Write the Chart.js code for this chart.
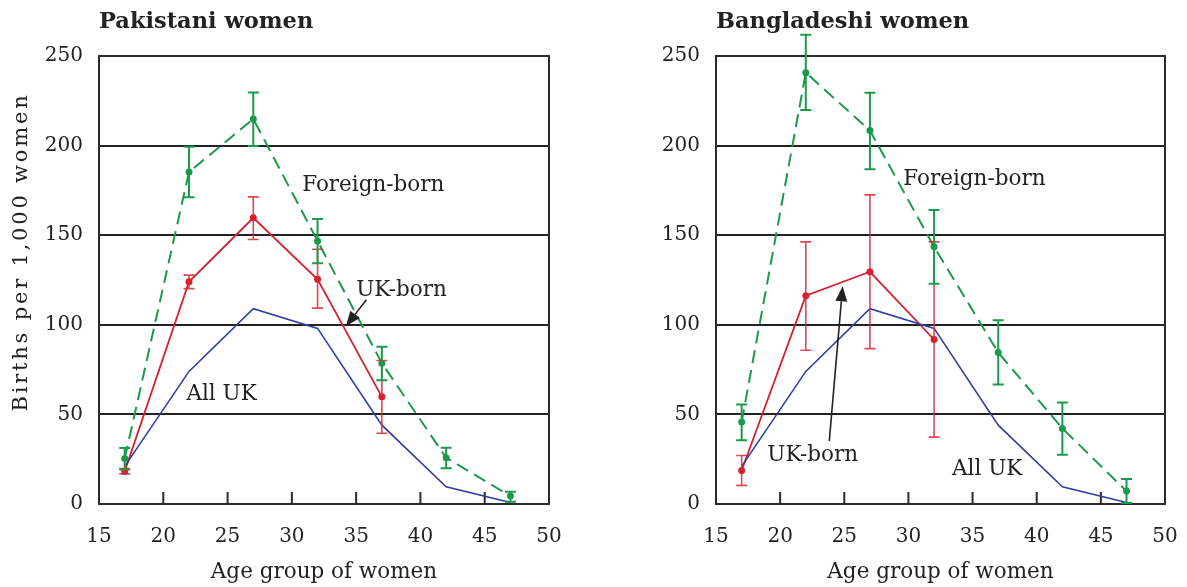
<!DOCTYPE html>
<html><head><meta charset="utf-8">
<script src="https://cdn.jsdelivr.net/npm/chart.js@4.4.1/dist/chart.umd.min.js"></script>
<style>
html,body{margin:0;padding:0;background:#fff;}
#wrap{position:relative;width:1187px;height:587px;overflow:hidden;}
canvas{position:absolute;top:0;}
</style></head><body>
<div id="wrap">
<canvas id="c1" width="571" height="587" style="left:0"></canvas>
<canvas id="c2" width="616" height="587" style="left:571px"></canvas>
</div>
<script>
// ---- data ----
const ages = [17, 22, 27, 32, 37, 42, 47];
const xTickValues = [15, 20, 25, 30, 35, 40, 45, 50];
const yTickValues = [0, 50, 100, 150, 200, 250];

const allUK = [21, 74, 109, 98, 44, 9.6, 0.8];

const pakForeign     = [25.4, 185.3, 214.9, 146.8, 78.6, 25.8, 4.4];
const pakForeignLow  = [19.3, 171.2, 199.8, 134.4, 69.1, 20.0, 1.3];
const pakForeignHigh = [31.2, 199.4, 229.7, 159.1, 87.7, 31.4, 6.9];
const pakUK     = [18.2, 124.0, 159.7, 125.4, 59.8];
const pakUKLow  = [16.8, 120.2, 147.6, 109.3, 39.5];
const pakUKHigh = [19.8, 127.7, 171.4, 142.2, 80.1];

const banForeign     = [45.7, 240.7, 208.4, 143.5, 84.5, 42.2, 7.2];
const banForeignLow  = [35.6, 219.9, 186.8, 122.9, 66.7, 27.5, 0.5];
const banForeignHigh = [55.5, 261.9, 229.5, 164.1, 102.6, 56.7, 13.9];
const banUK     = [18.7, 116.2, 129.6, 91.8];
const banUKLow  = [10.4, 85.8, 86.7, 37.3];
const banUKHigh = [27.1, 146.3, 172.5, 146.3];

// ---- style ----
const GREEN = '#1c9a4c', RED = '#d5202f', BLUE = '#2e3f9e', INK = '#222';
const FONT = "'DejaVu Serif', serif";
Chart.defaults.font.family = FONT;
Chart.defaults.color = INK;

function pts(vals) { return vals.map((v, i) => ({ x: ages[i], y: v })); }

const framePlugin = {
  id: 'frame',
  beforeDatasetsDraw(chart) {
    const { ctx, chartArea: a, scales: { x } } = chart;
    ctx.save();
    ctx.strokeStyle = '#2a2a2a';
    ctx.lineWidth = 2;
    ctx.strokeRect(a.left, a.top, a.right - a.left, a.bottom - a.top);
    x.ticks.forEach(t => {
      if (t.value <= x.min || t.value >= x.max) return;
      const px = x.getPixelForValue(t.value);
      ctx.beginPath();
      ctx.moveTo(px, a.bottom);
      ctx.lineTo(px, a.bottom - 12);
      ctx.stroke();
    });
    ctx.restore();
  }
};

const errorPlugin = {
  id: 'errbars',
  afterDatasetsDraw(chart) {
    const { ctx, scales: { x, y } } = chart;
    chart.data.datasets.forEach(ds => {
      if (!ds.errLow) return;
      ctx.save();
      ctx.strokeStyle = ds.errColor;
      ctx.lineWidth = ds.errWidth;
      ds.errLow.forEach((lo, i) => {
        const hi = ds.errHigh[i];
        const px = x.getPixelForValue(ages[i]);
        const p1 = y.getPixelForValue(lo), p2 = y.getPixelForValue(hi);
        ctx.beginPath();
        ctx.moveTo(px, p1); ctx.lineTo(px, p2);
        ctx.moveTo(px - 5.5, p1); ctx.lineTo(px + 5.5, p1);
        ctx.moveTo(px - 5.5, p2); ctx.lineTo(px + 5.5, p2);
        ctx.stroke();
      });
      ctx.restore();
    });
  }
};

const notePlugin = {
  id: 'notes',
  afterDraw(chart, args, opts) {
    const { ctx, scales: { x, y } } = chart;
    ctx.save();
    ctx.fillStyle = INK;
    ctx.font = '21.5px ' + FONT;
    ctx.textAlign = 'left';
    ctx.textBaseline = 'middle';
    (opts.texts || []).forEach(t => {
      ctx.fillText(t.text, x.getPixelForValue(t.x), y.getPixelForValue(t.y));
    });
    (opts.arrows || []).forEach(ar => {
      const x1 = x.getPixelForValue(ar.from[0]), y1 = y.getPixelForValue(ar.from[1]);
      const x2 = x.getPixelForValue(ar.to[0]), y2 = y.getPixelForValue(ar.to[1]);
      const ang = Math.atan2(y2 - y1, x2 - x1);
      const L = 15, W = 6;
      const bx = x2 - L * Math.cos(ang), by = y2 - L * Math.sin(ang);
      ctx.strokeStyle = INK; ctx.lineWidth = 1.6;
      ctx.beginPath(); ctx.moveTo(x1, y1); ctx.lineTo(bx, by); ctx.stroke();
      ctx.beginPath();
      ctx.moveTo(x2, y2);
      ctx.lineTo(bx + W * Math.sin(ang), by - W * Math.cos(ang));
      ctx.lineTo(bx - W * Math.sin(ang), by + W * Math.cos(ang));
      ctx.closePath(); ctx.fill();
    });
    if (opts.yTitle) {
      ctx.font = '21px ' + FONT;
      ctx.letterSpacing = '2.8px';
      ctx.translate(22, 252);
      ctx.rotate(-Math.PI / 2);
      ctx.textAlign = 'center';
      ctx.fillText(opts.yTitle, 0, 0);
    }
    ctx.restore();
  }
};

function makeChart(id, title, foreign, fLow, fHigh, uk, uLow, uHigh, yWidth, notes) {
  return new Chart(document.getElementById(id), {
    type: 'line',
    data: {
      datasets: [
        { label: 'All UK', data: pts(allUK), borderColor: BLUE, borderWidth: 1.6, pointRadius: 0, tension: 0 },
        { label: 'UK-born', data: pts(uk), borderColor: RED, backgroundColor: RED, borderWidth: 1.8,
          pointRadius: 3.5, pointBorderWidth: 0, pointBackgroundColor: RED,
          errLow: uLow, errHigh: uHigh, errColor: 'rgba(215,40,55,0.85)', errWidth: 1.6 },
        { label: 'Foreign-born', data: pts(foreign), borderColor: GREEN, backgroundColor: GREEN, borderWidth: 2,
          borderDash: [13, 7], pointRadius: 3.5, pointBorderWidth: 0, pointBackgroundColor: GREEN,
          errLow: fLow, errHigh: fHigh, errColor: GREEN, errWidth: 2 }
      ]
    },
    options: {
      responsive: false,
      animation: false,
      layout: { padding: { left: 0, right: 22, top: 0, bottom: 0 } },
      plugins: {
        legend: { display: false },
        tooltip: { enabled: false },
        title: { display: true, text: title, align: 'start', fullSize: false,
          font: { size: 22.5, weight: 'bold', family: FONT }, color: INK, padding: { top: 9, bottom: 20 } },
        notes: notes
      },
      scales: {
        x: {
          type: 'linear', min: 15, max: 50,
          afterBuildTicks: s => { s.ticks = xTickValues.map(v => ({ value: v })); },
          ticks: { font: { size: 20 }, color: INK, padding: 21, maxRotation: 0 },
          grid: { display: false, drawTicks: false },
          border: { display: false },
          title: { display: true, text: 'Age group of women', font: { size: 21.5 }, color: INK, padding: { top: 4, bottom: 2 } },
          afterFit: s => { s.height = 83; s.paddingLeft = 0; s.paddingRight = 0; }
        },
        y: {
          min: 0, max: 250,
          afterBuildTicks: s => { s.ticks = yTickValues.map(v => ({ value: v })); },
          ticks: { font: { size: 20 }, color: INK, padding: 16 },
          grid: { color: '#222', lineWidth: 2, drawTicks: false },
          border: { display: false },
          afterFit: s => { s.width = yWidth; s.paddingTop = 0; s.paddingBottom = 0; }
        }
      }
    },
    plugins: [framePlugin, errorPlugin, notePlugin]
  });
}

makeChart('c1', 'Pakistani women', pakForeign, pakForeignLow, pakForeignHigh, pakUK, pakUKLow, pakUKHigh, 99, {
  yTitle: 'Births per 1,000 women',
  texts: [
    { text: 'Foreign-born', x: 30.8, y: 178 },
    { text: 'UK-born', x: 35.0, y: 119 },
    { text: 'All UK', x: 21.8, y: 61 }
  ],
  arrows: [{ from: [35.8, 114], to: [34.2, 99.2] }]
});

makeChart('c2', 'Bangladeshi women', banForeign, banForeignLow, banForeignHigh, banUK, banUKLow, banUKHigh, 145, {
  texts: [
    { text: 'Foreign-born', x: 29.6, y: 181 },
    { text: 'UK-born', x: 19.0, y: 27 },
    { text: 'All UK', x: 33.4, y: 19.3 }
  ],
  arrows: [{ from: [23.83, 35.1], to: [24.87, 121.5] }]
});
</script>
</body></html>
